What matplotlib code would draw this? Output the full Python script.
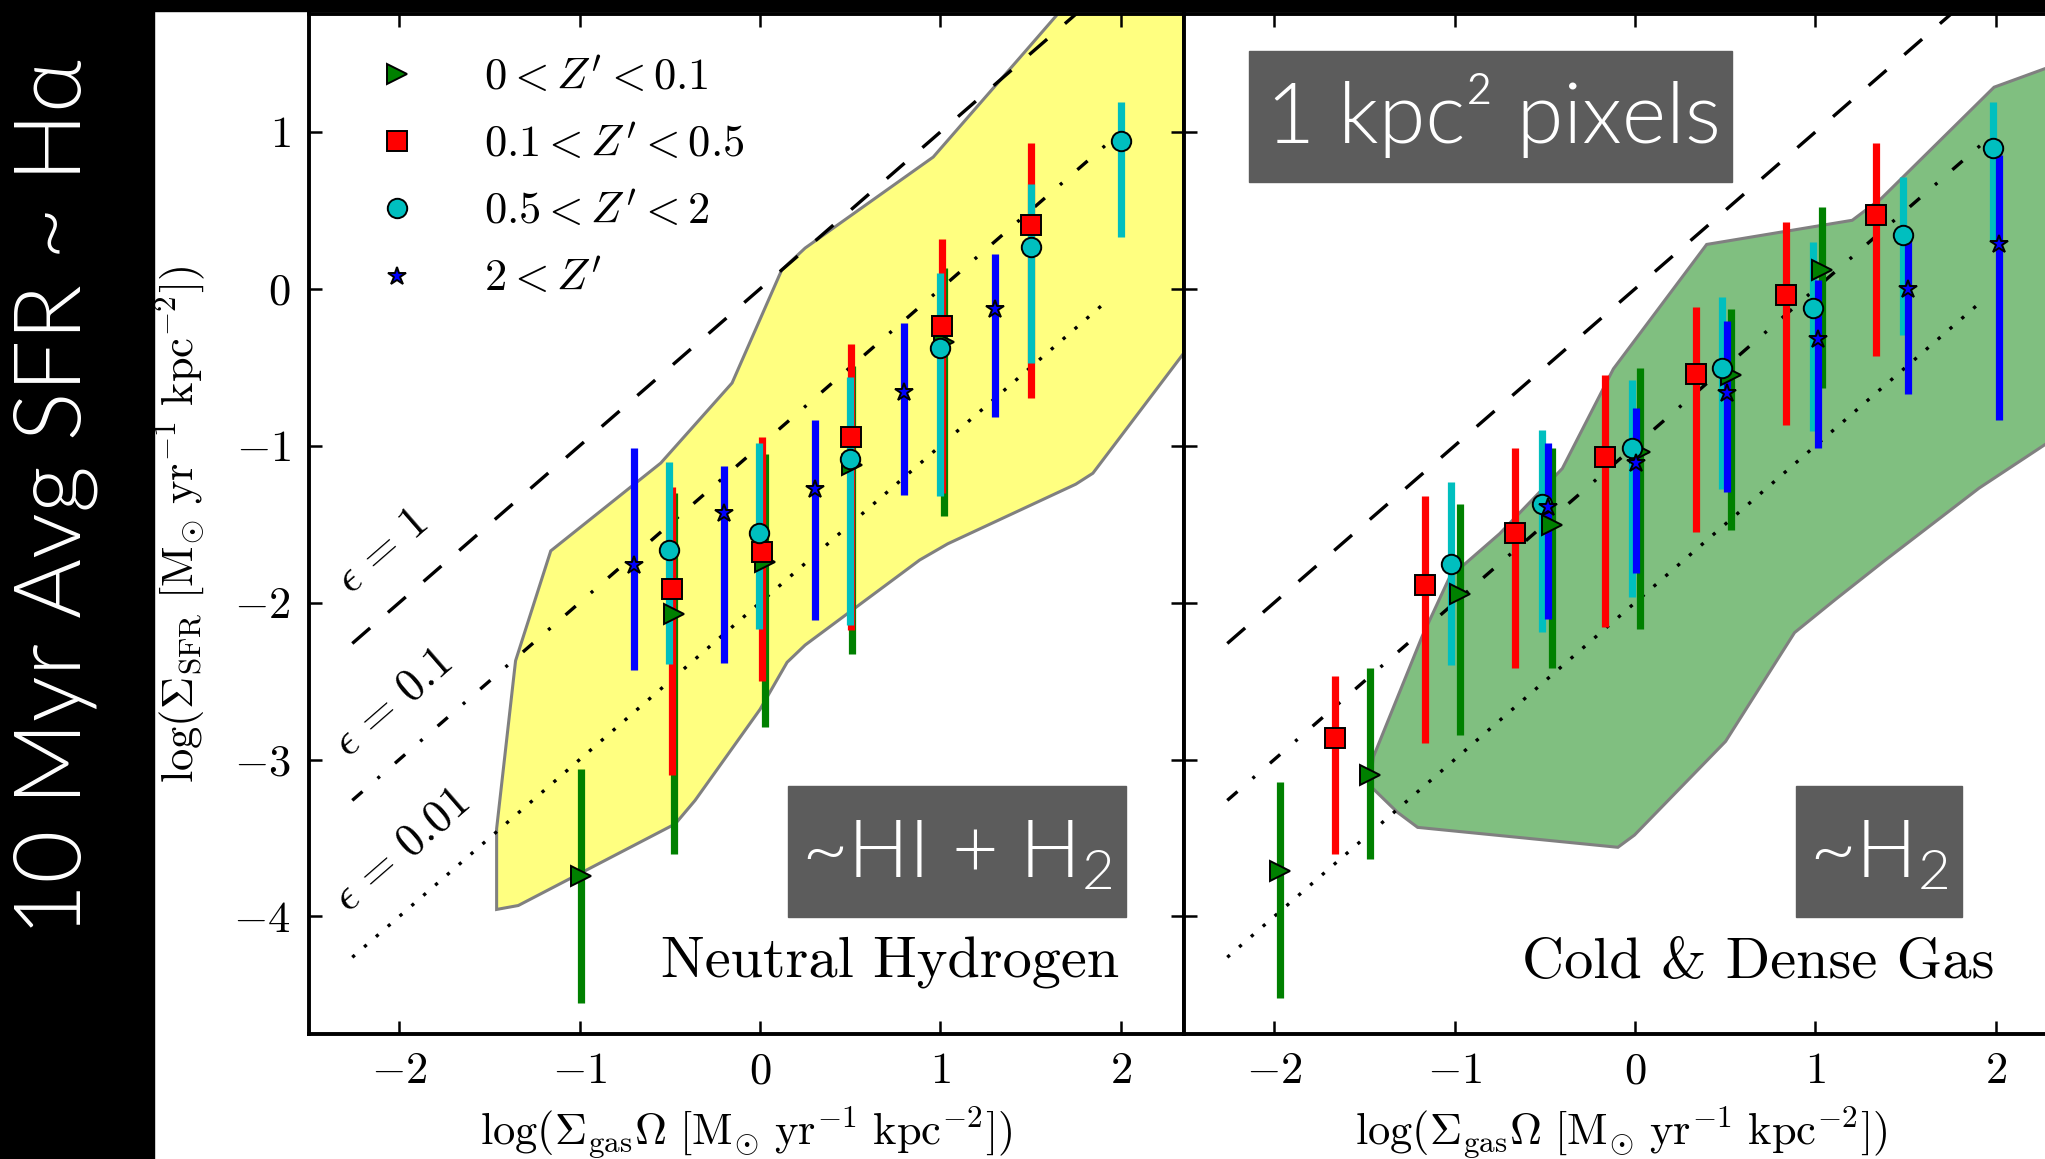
import numpy as np
import matplotlib
matplotlib.use('Agg')
import matplotlib.pyplot as plt
from matplotlib.patches import Rectangle, Polygon
from matplotlib.ticker import FixedLocator, FixedFormatter

plt.rcParams['mathtext.fontset'] = 'cm'
plt.rcParams['mathtext.rm'] = 'Lato:weight=300'
plt.rcParams['mathtext.it'] = 'Lato:weight=300'
plt.rcParams['mathtext.bf'] = 'Lato:bold'
plt.rcParams['font.family'] = ['cmr10', 'DejaVu Serif']
plt.rcParams['lines.scale_dashes'] = False
plt.rcParams['axes.unicode_minus'] = False

# ---------------- data ----------------
# Left panel: Neutral Hydrogen (HI + H2)
L_green_x = [-0.995, -0.475, 0.025, 0.51, 1.02]
L_green_y = [-3.74, -2.07, -1.74, -1.12, -0.34]
L_green_lo = [-4.55, -3.60, -2.79, -2.33, -1.45]
L_green_hi = [-3.06, -1.30, -1.05, -0.49, 0.13]

L_red_x = [-0.49, 0.012, 0.503, 1.008, 1.504]
L_red_y = [-1.915, -1.675, -0.942, -0.234, 0.407]
L_red_lo = [-3.10, -2.50, -2.174, -1.30, -0.693]
L_red_hi = [-1.265, -0.946, -0.353, 0.316, 0.928]

L_cyan_x = [-0.505, -0.005, 0.497, 1.0, 1.5, 2.0]
L_cyan_y = [-1.664, -1.558, -1.084, -0.379, 0.267, 0.945]
L_cyan_lo = [-2.393, -2.17, -2.142, -1.32, -0.474, 0.333]
L_cyan_hi = [-1.101, -0.984, -0.564, 0.099, 0.669, 1.193]

L_blue_x = [-0.70, -0.20, 0.303, 0.80, 1.30]
L_blue_y = [-1.76, -1.43, -1.277, -0.655, -0.128]
L_blue_lo = [-2.429, -2.386, -2.11, -1.314, -0.815]
L_blue_hi = [-1.016, -1.129, -0.836, -0.215, 0.22]

# Right panel: Cold & Dense Gas (H2)
R_green_x = [-1.97, -1.47, -0.97, -0.46, 0.03, 0.534, 1.036]
R_green_y = [-3.707, -3.096, -1.945, -1.505, -1.037, -0.549, 0.12]
R_green_lo = [-4.522, -3.634, -2.843, -2.417, -2.166, -1.537, -0.634]
R_green_hi = [-3.145, -2.417, -1.373, -1.016, -0.502, -0.13, 0.52]

R_red_x = [-1.664, -1.165, -0.666, -0.165, 0.336, 0.838, 1.338]
R_red_y = [-2.860, -1.89, -1.554, -1.069, -0.542, -0.039, 0.471]
R_red_lo = [-3.602, -2.896, -2.417, -2.154, -1.551, -0.867, -0.428]
R_red_hi = [-2.470, -1.317, -1.016, -0.549, -0.113, 0.424, 0.932]

R_cyan_x = [-1.021, -0.517, -0.016, 0.484, 0.986, 1.487, 1.985]
R_cyan_y = [-1.756, -1.371, -1.012, -0.506, -0.124, 0.343, 0.90]
R_cyan_lo = [-2.397, -2.19, -1.964, -1.277, -0.906, -0.294, 0.31]
R_cyan_hi = [-1.232, -0.899, -0.581, -0.054, 0.301, 0.711, 1.193]

R_blue_x = [-0.485, 0.007, 0.511, 1.012, 1.514, 2.015]
R_blue_y = [-1.388, -1.112, -0.666, -0.321, -0.003, 0.286]
R_blue_lo = [-2.105, -1.813, -1.292, -1.016, -0.67, -0.836]
R_blue_hi = [-0.984, -0.761, -0.205, 0.057, 0.33, 0.85]

# shaded envelopes
yellow_x = [-1.46, -1.46, -1.355, -1.16, -0.55, -0.155, 0.12, 0.25, 0.96, 1.46, 1.80,
            2.5, 2.5, 1.845, 1.75, 1.04, 0.885, 0.25, 0.15, 0.0, -0.36, -0.47, -1.34]
yellow_y = [-3.955, -3.44, -2.37, -1.67, -1.11, -0.60, 0.12, 0.26, 0.84, 1.50, 1.95,
            1.95, -0.18, -1.175, -1.245, -1.625, -1.728, -2.27, -2.38, -2.68, -3.26, -3.41, -3.93]
green_x = [-1.471, -1.45, -1.18, -1.028, -0.75, -0.403, -0.12, 0.397, 1.204, 1.366, 1.99,
           2.269, 2.5, 2.5, 2.269, 1.907, 1.388, 1.107, 0.884, 0.502, -0.003, -0.095, -1.205, -1.318]
green_y = [-3.164, -2.982, -2.215, -1.838, -1.56, -1.145, -0.51, 0.283, 0.437, 0.577, 1.285,
           1.402, 1.5, -0.82, -0.995, -1.27, -1.728, -1.983, -2.191, -2.884, -3.481, -3.559, -3.432, -3.335]

eps_values = [1.0, 0.1, 0.01]
eps_labels = [r'$\epsilon\,=\,1$', r'$\epsilon\,=\,0.1$', r'$\epsilon\,=\,0.01$']
eps_x_range = [-2.26, 1.92]

legend_labels = [r"$0 < Z' < 0.1$", r"$0.1 < Z' < 0.5$", r"$0.5 < Z' < 2$", r"$2 < Z'$"]
xticks = [-2, -1, 0, 1, 2]
yticks = [-4, -3, -2, -1, 0, 1]

# ---------------- figure ----------------
W, H = 2045, 1159
fig = plt.figure(figsize=(W / 100, H / 100), dpi=100, facecolor='white')

def px_rect(x0, y0, x1, y1, **kw):
    return Rectangle((x0 / W, 1 - y1 / H), (x1 - x0) / W, (y1 - y0) / H,
                     transform=fig.transFigure, **kw)

fig.add_artist(px_rect(0, 0, 154, H, color='black', zorder=0.5))
fig.add_artist(px_rect(0, 0, W, 11, color='black', zorder=0.5))

ax_b, ax_h = 0.1077, 0.88
axL = fig.add_axes([309 / W, ax_b, 875 / W, ax_h])
axR = fig.add_axes([1184 / W, ax_b, 875 / W, ax_h])

series_style = [  # color, marker, markersize
    ('#008000', '>', 14.5),
    ('#ff0000', 's', 14),
    ('#00bfbf', 'o', 14),
    ('#0000ff', '*', 13.5),
]
line_styles = [(17, 17), (9.7, 14.4, 2.2, 14.4), (2.4, 8.9)]

def draw_panel(ax, groups, poly_x, poly_y, fillcol):
    ax.add_patch(Polygon(np.column_stack([poly_x, poly_y]), closed=True,
                         facecolor=fillcol, edgecolor='#808080', lw=2.2, zorder=1))
    xs = np.array(eps_x_range)
    for eps, ds in zip(eps_values, line_styles):
        ax.plot(xs, xs + np.log10(eps), color='k', lw=2.4, zorder=2,
                dash_capstyle='butt', dashes=ds)
    for (x, y, lo, hi), (col, mk, ms) in zip(groups, series_style):
        y = np.asarray(y); lo = np.asarray(lo); hi = np.asarray(hi)
        ax.errorbar(x, y, yerr=[y - lo, hi - y], fmt='none', ecolor=col,
                    elinewidth=5.2, capsize=0, zorder=3)
    hd = {}
    for i in [0, 2, 1, 3]:
        (x, y, lo, hi), (col, mk, ms) = groups[i], series_style[i]
        h, = ax.plot(x, y, ls='none', marker=mk, ms=ms,
                     mfc=col, mec='k', mew=1.4, zorder=5 + i * 0.1)
        hd[i] = h
    return [hd[i] for i in range(4)]

L_groups = [(L_green_x, L_green_y, L_green_lo, L_green_hi),
            (L_red_x, L_red_y, L_red_lo, L_red_hi),
            (L_cyan_x, L_cyan_y, L_cyan_lo, L_cyan_hi),
            (L_blue_x, L_blue_y, L_blue_lo, L_blue_hi)]
R_groups = [(R_green_x, R_green_y, R_green_lo, R_green_hi),
            (R_red_x, R_red_y, R_red_lo, R_red_hi),
            (R_cyan_x, R_cyan_y, R_cyan_lo, R_cyan_hi),
            (R_blue_x, R_blue_y, R_blue_lo, R_blue_hi)]

handles = draw_panel(axL, L_groups, yellow_x, yellow_y, '#ffff80')
draw_panel(axR, R_groups, green_x, green_y, '#80bf80')

xlabel = r'$\log(\Sigma_{\rm gas}\Omega\ [{\rm M}_{\odot}\ {\rm yr}^{-1}\ {\rm kpc}^{-2}])$'
for ax in (axL, axR):
    ax.set_xlim(-2.5, 2.35)
    ax.set_ylim(-4.75, 1.75)
    ax.xaxis.set_major_locator(FixedLocator(xticks))
    ax.yaxis.set_major_locator(FixedLocator(yticks))
    ax.xaxis.set_major_formatter(FixedFormatter([rf'${v}$' for v in xticks]))
    ax.yaxis.set_major_formatter(FixedFormatter([rf'${v}$' for v in yticks]))
    ax.tick_params(which='major', direction='in', length=9.5, width=1.8,
                   top=True, right=True, labelsize=32, pad=13)
    for sp in ax.spines.values():
        sp.set_linewidth(2.8)
    ax.set_xlabel(xlabel, fontsize=32)
    ax.xaxis.set_label_coords(0.5, -0.069)
axR.tick_params(labelleft=False)
axL.set_ylabel(r'$\log(\Sigma_{\rm SFR}\ [{\rm M}_{\odot}\ {\rm yr}^{-1}\ {\rm kpc}^{-2}])$',
               fontsize=32)
axL.yaxis.set_label_coords(-0.117, 0.5)

# efficiency labels
eps_lab_pos = [(-2.09, -1.675), (-2.035, -2.641), (-1.984, -3.582)]
for (lx, ly), lab in zip(eps_lab_pos, eps_labels):
    axL.text(lx, ly, lab, fontsize=33, rotation=41, ha='center', va='center',
             rotation_mode='anchor', zorder=6)

axL.legend(handles, legend_labels, loc='upper left', bbox_to_anchor=(0.0754, 0.957),
           frameon=False, numpoints=1, fontsize=32, handlelength=1.0,
           handletextpad=1.46, labelspacing=0.6, borderpad=0, borderaxespad=0)

axL.text(1.99, -4.39, 'Neutral Hydrogen', fontsize=42, ha='right', va='baseline', zorder=6)
axR.text(1.99, -4.39, 'Cold & Dense Gas', fontsize=42, ha='right', va='baseline', zorder=6)

# gray annotation boxes
box_col = '#5c5c5c'
sans = ['Lato', 'DejaVu Sans']
fig.add_artist(px_rect(1249, 51, 1732, 182, color=box_col, zorder=3))
fig.text(1493 / W, 1 - 143.5 / H, '1 kpc² pixels', color='white',
         family=sans, weight=300, fontsize=61, ha='center', va='baseline', zorder=4)

fig.add_artist(px_rect(788, 786, 1126, 917, color=box_col, zorder=3))
fig.text(957 / W, 1 - 877 / H, '~HI + H$_2$', color='white', family=sans, weight=300,
         fontsize=58, ha='center', va='baseline', zorder=4, math_fontfamily='custom')
fig.add_artist(px_rect(1796, 786, 1962, 917, color=box_col, zorder=3))
fig.text(1879 / W, 1 - 877 / H, '~H$_2$', color='white', family=sans, weight=300,
         fontsize=58, ha='center', va='baseline', zorder=4, math_fontfamily='custom')

# side title
fig.text(56 / W, 1 - 497 / H, '10 Myr Avg SFR ~ Hα', color='white', family=sans,
         weight=300, fontsize=66, rotation=90, ha='center', va='center', zorder=4)

fig.savefig('out.png', dpi=100, facecolor=fig.get_facecolor())
